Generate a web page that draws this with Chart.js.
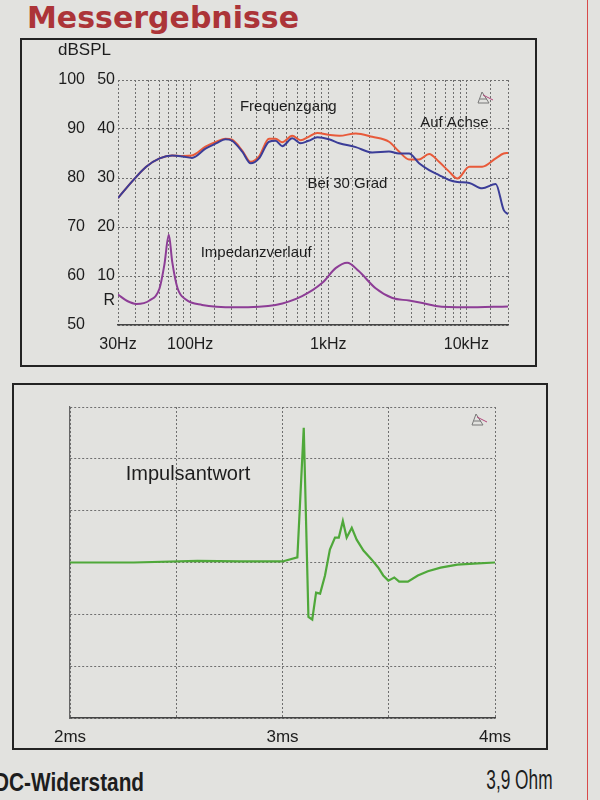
<!DOCTYPE html>
<html>
<head>
<meta charset="utf-8">
<script src="https://cdn.jsdelivr.net/npm/chart.js@4.4.1/dist/chart.umd.min.js"></script>
<style>
html, body { margin: 0; padding: 0; }
body { width: 600px; height: 800px; background: #e2e2df; position: relative; overflow: hidden;
  font-family: 'Liberation Sans', Arial, sans-serif; color: #1d1d1d; }
.box { position: absolute; border: 2px solid #232323; box-sizing: border-box; }
.wrap { position: absolute; left: 0; top: 0; }
#head { position: absolute; left: 27px; top: 0px; font: bold 30px 'DejaVu Sans', sans-serif; color: #ac3438; white-space: nowrap; }
#unit { position: absolute; left: 58px; top: 40px; font-size: 17px; }
#dc { position: absolute; left: -6px; top: 767px; font: bold 26px 'Liberation Sans', Arial, sans-serif; white-space: nowrap;
  transform: scaleX(0.8); transform-origin: left center; }
#ohm { position: absolute; right: 47px; top: 765px; font: 27px 'Liberation Sans', Arial, sans-serif; white-space: nowrap;
  transform: scaleX(0.64); transform-origin: right center; }
#edge { position: absolute; left: 587px; top: 0; width: 1px; height: 800px; background: #d84a4a; }
</style>
</head>
<body>
<div id="head">Messergebnisse</div>
<div id="edge"></div>

<div class="box" style="left:20px; top:38px; width:517px; height:329px;">
  <div class="wrap" style="width:513px; height:325px;"><canvas id="fr"></canvas></div>
</div>
<div id="unit">dBSPL</div>

<div class="box" style="left:12px; top:383px; width:536px; height:367px;">
  <div class="wrap" style="width:532px; height:363px;"><canvas id="ir"></canvas></div>
</div>

<div id="dc">DC-Widerstand</div>
<div id="ohm">3,9 Ohm</div>

<script>
// frequency response, Hz / dB
var freqSpl = [30, 38, 48, 60, 74, 88, 103, 129, 155, 180, 201, 238, 274, 315, 372, 415, 464, 548, 630, 720,
  832, 1010, 1200, 1580, 2080, 2750, 3250, 3840, 4540, 5370, 6330, 7500, 8610, 10500, 13000, 16300, 18600, 20000];
var splOnAxis = [75.9, 79.3, 82.3, 84.0, 84.6, 84.5, 84.6, 86.4, 87.4, 88.0, 87.8, 85.6, 83.3, 84.4, 88.0, 88.0, 87.3, 88.6, 87.7, 88.4,
  89.2, 88.8, 88.6, 89.1, 88.4, 87.4, 85.4, 83.8, 83.8, 84.9, 83.3, 81.3, 79.9, 82.3, 82.3, 84.0, 85.0, 85.1];
var spl30Deg = [75.9, 79.3, 82.3, 84.0, 84.6, 84.4, 84.1, 86.0, 87.1, 87.9, 87.6, 85.4, 83.0, 84.0, 87.4, 87.6, 86.5, 88.1, 87.1, 87.6,
  88.3, 87.9, 87.1, 86.3, 85.2, 85.4, 85.0, 85.0, 83.0, 81.6, 80.6, 79.6, 79.2, 79.0, 77.9, 78.8, 73.5, 72.6];

// impedance, Hz / Ohm
var freqImp = [30, 35, 40.7, 50.7, 60, 65, 70, 74, 81, 93, 122, 213, 415, 646, 905, 1130, 1370, 1660, 2200, 2910,
  3840, 4800, 6000, 9880, 20000];
var impOhm = [6.2, 4.9, 4.3, 5.0, 7.5, 12.3, 18.4, 13.0, 7.5, 5.2, 4.1, 3.6, 4.1, 5.9, 8.6, 11.6, 12.7, 11.0, 7.5, 5.5,
  5.0, 4.5, 3.9, 3.6, 3.8];

// impulse response, ms / relative amplitude
var timeMs = [2.0, 2.3, 2.6, 2.8, 3.0, 3.07, 3.1, 3.122, 3.14, 3.158, 3.177, 3.2, 3.223, 3.247, 3.265, 3.284, 3.302,
  3.326, 3.349, 3.381, 3.419, 3.451, 3.474, 3.498, 3.526, 3.549, 3.59, 3.637, 3.684, 3.744, 3.823, 3.9, 4.0];
var impulse = [0, 0, 0.03, 0.02, 0.02, 0.1, 2.6, -1.05, -1.1, -0.58, -0.6, -0.25, 0.25, 0.48, 0.48, 0.8, 0.48,
  0.67, 0.44, 0.23, 0.06, -0.1, -0.25, -0.35, -0.29, -0.37, -0.37, -0.25, -0.17, -0.1, -0.04, -0.02, 0];

var freqLabels = { 30: '30Hz', 100: '100Hz', 1000: '1kHz', 10000: '10kHz' };
var dbTicks = [50, 60, 70, 80, 90, 100];
var ohmTicks = [5, 10, 20, 30, 40, 50];
var msLabels = { 2: '2ms', 3: '3ms', 4: '4ms' };

Chart.defaults.font.family = "'Liberation Sans', Arial, sans-serif";
Chart.defaults.color = '#1d1d1d';

function pts(xs, ys) {
  return xs.map(function(x, i) { return { x: x, y: ys[i] }; });
}

function dashGrid() { return { color: '#6f6f6f', lineWidth: 1, drawTicks: false }; }

var notes = {
  id: 'notes',
  afterDatasetsDraw: function(chart, args, opts) {
    var ctx = chart.ctx, xs = chart.scales.x, ys = chart.scales.y;
    ctx.save();
    ctx.fillStyle = '#1d1d1d';
    ctx.textAlign = 'center';
    ctx.textBaseline = 'middle';
    ctx.font = opts.font;
    (opts.items || []).forEach(function(n) {
      ctx.fillText(n.text, xs.getPixelForValue(n.x), ys.getPixelForValue(n.y));
    });
    // little logo in the corner
    var a = chart.chartArea, tx = a.right - opts.markDx, ty = a.top + opts.markDy;
    ctx.strokeStyle = '#777';
    ctx.lineWidth = 1;
    ctx.beginPath();
    ctx.moveTo(tx - 6, ty + 5); ctx.lineTo(tx + 5, ty + 5); ctx.lineTo(tx - 2, ty - 6); ctx.closePath();
    ctx.moveTo(tx - 4, ty + 1); ctx.lineTo(tx + 3, ty + 1);
    ctx.stroke();
    ctx.strokeStyle = '#b0467a';
    ctx.beginPath();
    ctx.moveTo(tx - 1, ty - 3); ctx.lineTo(tx + 9, ty + 2);
    ctx.stroke();
    ctx.restore();
  }
};

new Chart(document.getElementById('fr'), {
  type: 'line',
  data: {
    datasets: [
      { label: 'Bei 30 Grad', data: pts(freqSpl, spl30Deg), borderColor: '#3b3d98', borderWidth: 2,
        pointRadius: 0, cubicInterpolationMode: 'monotone', yAxisID: 'y' },
      { label: 'Auf Achse', data: pts(freqSpl, splOnAxis), borderColor: '#e85a3a', borderWidth: 2,
        pointRadius: 0, cubicInterpolationMode: 'monotone', yAxisID: 'y' },
      { label: 'Impedanzverlauf', data: pts(freqImp, impOhm), borderColor: '#8d3d96', borderWidth: 2,
        pointRadius: 0, cubicInterpolationMode: 'monotone', yAxisID: 'z' }
    ]
  },
  options: {
    responsive: true,
    maintainAspectRatio: false,
    animation: false,
    layout: { padding: { top: 40, right: 27, left: 0, bottom: 0 } },
    plugins: {
      legend: { display: false },
      tooltip: { enabled: false },
      notes: {
        font: "15px 'Liberation Sans', Arial, sans-serif",
        markDx: 24, markDy: 18,
        items: [
          { text: 'Frequenzgang', x: 513, y: 94.5 },
          { text: 'Auf Achse', x: 8180, y: 91.2 },
          { text: 'Bei 30 Grad', x: 1375, y: 78.8 },
          { text: 'Impedanzverlauf', x: 300, y: 64.7 }
        ]
      }
    },
    scales: {
      x: {
        type: 'logarithmic', min: 30, max: 20000,
        grid: dashGrid(),
        border: { display: true, color: '#444', width: 1.5, dash: [2, 2] },
        ticks: { autoSkip: false, maxRotation: 0, padding: 10, font: { size: 16 },
          callback: function(v) { return freqLabels[v] || ''; } },
        afterFit: function(s) { s.height = 40; }
      },
      y: {
        position: 'left', weight: 1, min: 50, max: 100,
        grid: dashGrid(),
        border: { display: false, dash: [2, 2] },
        ticks: { padding: 3, font: { size: 16 } },
        afterBuildTicks: function(s) { s.ticks = dbTicks.map(function(v) { return { value: v }; }); },
        afterFit: function(s) { s.width = 66; }
      },
      z: {
        position: 'left', weight: 0, min: 0, max: 50,
        grid: { display: false, drawTicks: false },
        border: { display: false },
        ticks: { padding: 3, font: { size: 16 },
          callback: function(v) { return v === 5 ? 'R' : String(v); } },
        afterBuildTicks: function(s) { s.ticks = ohmTicks.map(function(v) { return { value: v }; }); },
        afterFit: function(s) { s.width = 30; }
      }
    }
  },
  plugins: [notes]
});

new Chart(document.getElementById('ir'), {
  type: 'line',
  data: {
    datasets: [
      { label: 'Impulsantwort', data: pts(timeMs, impulse), borderColor: '#4fa83a', borderWidth: 2.2,
        pointRadius: 0, tension: 0 }
    ]
  },
  options: {
    responsive: true,
    maintainAspectRatio: false,
    animation: false,
    layout: { padding: { top: 22, right: 51, left: 56, bottom: 0 } },
    plugins: {
      legend: { display: false },
      tooltip: { enabled: false },
      notes: {
        font: "20px 'Liberation Sans', Arial, sans-serif",
        markDx: 17, markDy: 13,
        items: [ { text: 'Impulsantwort', x: 2.555, y: 1.69 } ]
      }
    },
    scales: {
      x: {
        type: 'linear', min: 2, max: 4,
        grid: dashGrid(),
        border: { display: true, color: '#444', width: 1.5, dash: [2, 2] },
        ticks: { stepSize: 0.5, autoSkip: false, maxRotation: 0, padding: 9, font: { size: 17 },
          callback: function(v) { return msLabels[v] || ''; } },
        afterFit: function(s) { s.height = 30; }
      },
      y: {
        min: -3, max: 3,
        grid: dashGrid(),
        border: { display: true, color: '#666', width: 1.2, dash: [2, 2] },
        ticks: { display: false, stepSize: 1 },
        afterFit: function(s) { s.width = 0; }
      }
    }
  },
  plugins: [notes]
});
</script>
</body>
</html>
